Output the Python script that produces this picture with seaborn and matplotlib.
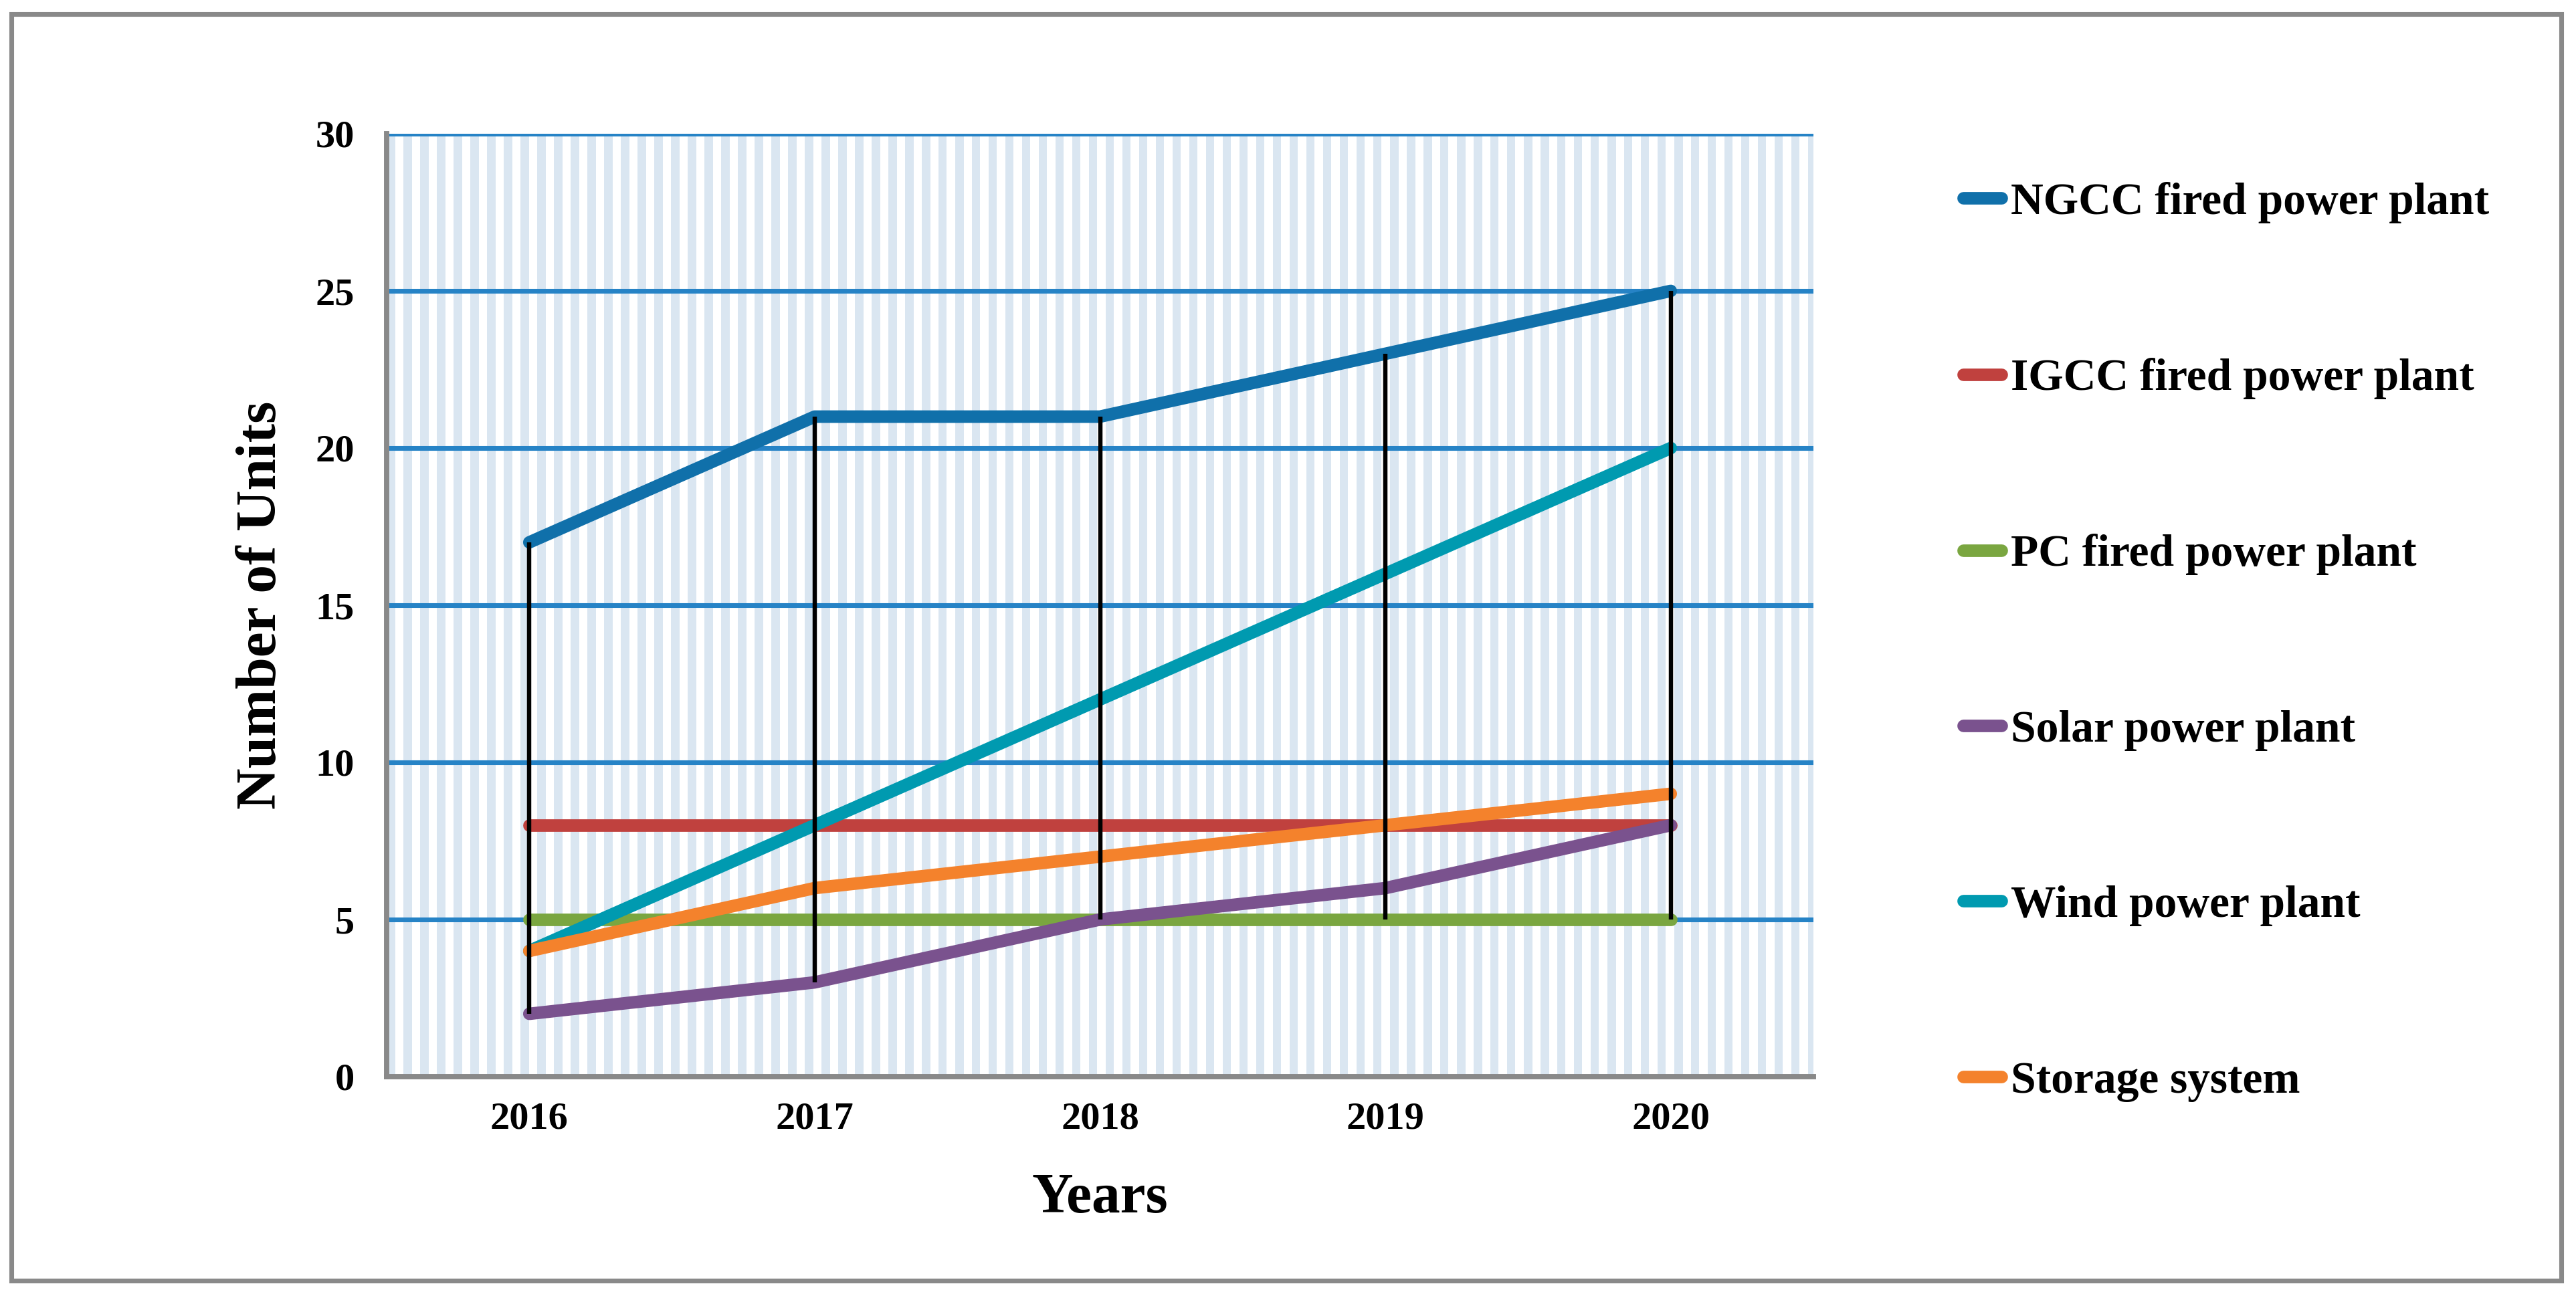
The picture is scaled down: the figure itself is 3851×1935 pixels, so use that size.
import matplotlib.pyplot as plt
import matplotlib.patches as mpatches
import seaborn as sns
import pandas as pd
import numpy as np

# data
years = [2016, 2017, 2018, 2019, 2020]
plants = ['NGCC fired power plant', 'IGCC fired power plant', 'PC fired power plant',
          'Solar power plant', 'Wind power plant', 'Storage system']
ngcc = [17, 21, 21, 23, 25]
igcc = [8, 8, 8, 8, 8]
pc = [5, 5, 5, 5, 5]
solar = [2, 3, 5, 6, 8]
wind = [4, 8, 12, 16, 20]
storage = [4, 6, 7, 8, 9]
y_ticks = [0, 5, 10, 15, 20, 25, 30]

colors = ['#1070AA', '#C0413E', '#7AA640', '#7A528E', '#009AB0', '#F4822C']

sns.set_style("white")
plt.rcParams['font.family'] = ['Liberation Serif', 'DejaVu Serif']
plt.rcParams['font.weight'] = 'bold'
plt.rcParams['text.color'] = 'black'
plt.rcParams['axes.labelcolor'] = 'black'
plt.rcParams['xtick.color'] = 'black'
plt.rcParams['ytick.color'] = 'black'

W, H, DPI = 3851, 1935, 300
fig = plt.figure(figsize=(W / DPI, H / DPI), dpi=DPI)

# plot area in pixel coords of the reference
left, right, top, bottom = 578, 2711, 200, 1610
ax = fig.add_axes([left / W, 1 - bottom / H, (right - left) / W, (bottom - top) / H])

# long table for seaborn
series = [ngcc, igcc, pc, solar, wind, storage]
df = pd.DataFrame({
    'Year': np.tile(years, len(plants)),
    'Units': np.concatenate(series),
    'Plant': np.repeat(plants, len(years)),
})

# Excel-style vertical stripe pattern behind the plot
period = 25 / (right - left)
for x0 in np.arange(0, 1, period):
    ax.add_patch(mpatches.Rectangle((x0, 0), min(period / 2, 1 - x0), 1,
                                    transform=ax.transAxes, facecolor='#DAE6F1',
                                    edgecolor='none', zorder=0.1))

sns.lineplot(data=df, x='Year', y='Units', hue='Plant', hue_order=plants,
             palette=dict(zip(plants, colors)), linewidth=4.5, ax=ax,
             solid_capstyle='round', solid_joinstyle='round', zorder=3)

# high-low lines
vals = np.array(series)
ax.vlines(years, vals.min(axis=0), vals.max(axis=0), color='black', linewidth=1.55, zorder=5)

ax.set_xlim(years[0] - 0.5, years[-1] + 0.5)
ax.set_ylim(0, 30)
ax.set_xticks(years)
ax.set_yticks(y_ticks)
ax.set_axisbelow(True)
ax.yaxis.grid(True, color='#2683C6', linewidth=1.7)
ax.xaxis.grid(False)

for s in ['top', 'right']:
    ax.spines[s].set_visible(False)
for s in ['left', 'bottom']:
    ax.spines[s].set_color('#898989')
    ax.spines[s].set_linewidth(1.9)

ax.tick_params(axis='y', length=4, width=1.9, color='#898989', labelcolor='black',
               pad=7.5, labelsize=14)
ax.tick_params(axis='x', length=0, pad=9, labelsize=14, labelcolor='black')
for lab in ax.get_xticklabels() + ax.get_yticklabels():
    lab.set_fontweight('bold')

ax.set_xlabel('Years', fontsize=20.5, fontweight='bold', labelpad=13)
ax.set_ylabel('Number of Units', fontsize=20.5, fontweight='bold', labelpad=10)

handles, labels = ax.get_legend_handles_labels()
leg = ax.legend(handles, labels, loc='upper left',
                bbox_to_anchor=(2935 / W, 1 - 272 / H), bbox_transform=fig.transFigure,
                frameon=False, fontsize=16.2, labelspacing=2.98, handlelength=0.85,
                handletextpad=0.2, borderpad=0, borderaxespad=0)
for t in leg.get_texts():
    t.set_fontweight('bold')
    t.set_color('black')
for h in leg.get_lines():
    h.set_linewidth(4.5)
    h.set_solid_capstyle('round')

# outer grey frame
fig.patches.append(mpatches.Rectangle((16.5 / W, 1 - 1914.5 / H), (3829 - 16.5) / W,
                                      (1914.5 - 20.5) / H, transform=fig.transFigure,
                                      fill=False, edgecolor='#898989', linewidth=1.7))

plt.savefig('out.png', dpi=DPI)
